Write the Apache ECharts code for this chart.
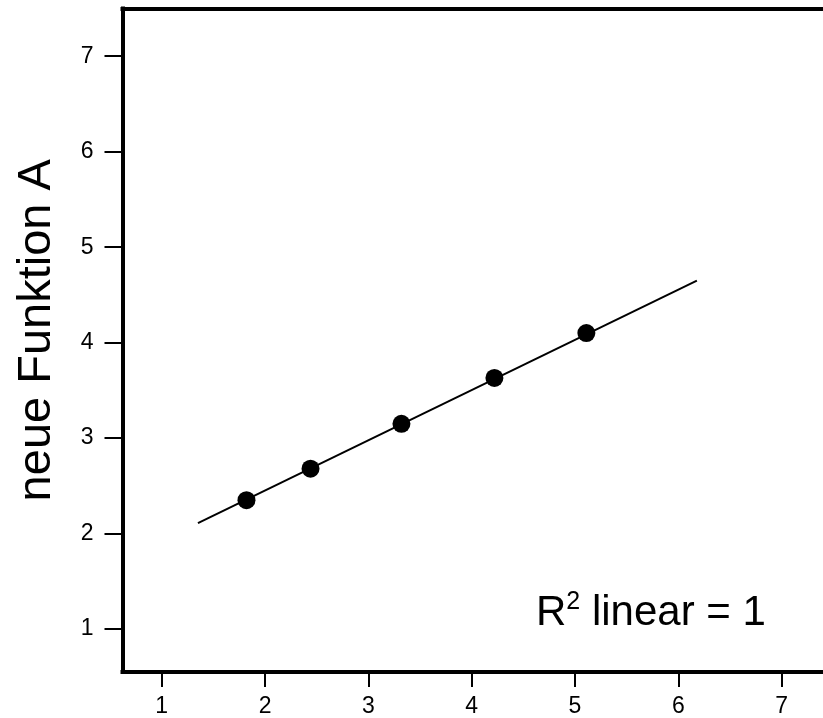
<!DOCTYPE html>
<html>
<head>
<meta charset="utf-8">
<script src="https://cdn.jsdelivr.net/npm/echarts@6/dist/echarts.min.js"></script>
<style>html,body{margin:0;padding:0;background:#fff;overflow:hidden}#c{width:880px;height:718px}</style>
</head>
<body>
<div id="c"></div>
<script>
// data
const xValues = [1.82, 2.44, 3.32, 4.22, 5.11];
const yValues = [2.35, 2.68, 3.15, 3.63, 4.10];
const fitLineX = [1.35, 6.18];
const fitLineY = [2.11, 4.65];
const xTicks = [1, 2, 3, 4, 5, 6, 7];
const yTicks = [1, 2, 3, 4, 5, 6, 7];
const yAxisTitle = 'neue Funktion A';

const FONT = '"Liberation Sans", Arial, sans-serif';
const chart = echarts.init(document.getElementById('c'), null, {renderer: 'canvas'});
const pts = xValues.map((x, i) => [x, yValues[i]]);
const fit = fitLineX.map((x, i) => [x, fitLineY[i]]);
const frameLine = {show: true, lineStyle: {color: '#000', width: 4, cap: 'square'}};

chart.setOption({
  animation: false,
  backgroundColor: '#fff',
  grid: {
    left: 122.5, top: 8.5, width: 718, height: 663.5,
    outerBoundsMode: 'none', containLabel: false, show: false
  },
  xAxis: [{
    type: 'value', min: 0.62, max: 7.57, position: 'bottom',
    axisLine: frameLine,
    splitLine: {show: false},
    axisTick: {show: true, length: 15, customValues: xTicks, lineStyle: {color: '#000', width: 2}},
    axisLabel: {customValues: xTicks, margin: 23, color: '#000', fontSize: 23, fontFamily: FONT}
  }, {
    type: 'value', min: 0.62, max: 7.57, position: 'top',
    axisLine: frameLine,
    splitLine: {show: false}, axisTick: {show: false}, axisLabel: {show: false}
  }],
  yAxis: {
    type: 'value', min: 0.55, max: 7.5,
    name: yAxisTitle, nameLocation: 'middle', nameRotate: 90, nameGap: 62,
    nameTextStyle: {color: '#000', fontSize: 47, fontFamily: FONT, padding: [0, 0, 0, 20]},
    axisLine: frameLine,
    splitLine: {show: false},
    axisTick: {show: true, length: 18, customValues: yTicks, lineStyle: {color: '#000', width: 2}},
    axisLabel: {customValues: yTicks, margin: 29, color: '#000', fontSize: 23, fontFamily: FONT}
  },
  graphic: [{
    type: 'text', left: 536, top: 590,
    style: {
      text: '{m|R}{s|2}{m| linear = 1}',
      rich: {
        m: {fontSize: 42, fontFamily: FONT, fill: '#000', lineHeight: 44, verticalAlign: 'bottom'},
        s: {fontSize: 25, fontFamily: FONT, fill: '#000', lineHeight: 25, verticalAlign: 'top'}
      }
    }
  }],
  series: [
    {type: 'line', xAxisIndex: 0, data: fit, showSymbol: false, symbol: 'none', lineStyle: {color: '#000', width: 2}, silent: true, z: 2},
    {type: 'scatter', xAxisIndex: 0, data: pts, symbol: 'circle', symbolSize: 18, itemStyle: {color: '#000', opacity: 1}, z: 3}
  ]
});
</script>
</body>
</html>
